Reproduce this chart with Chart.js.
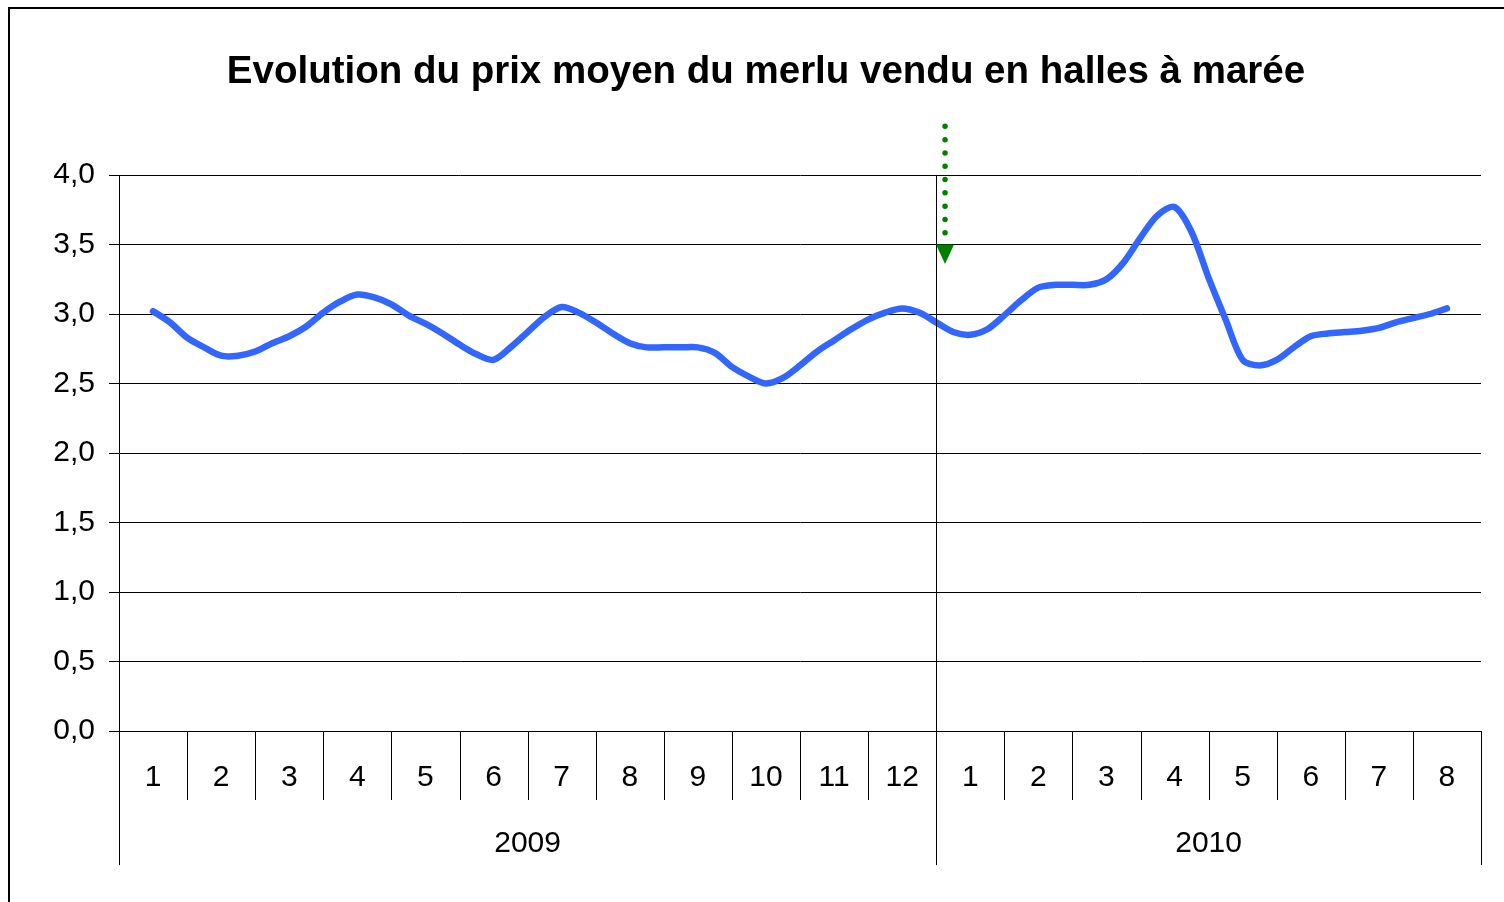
<!DOCTYPE html>
<html>
<head>
<meta charset="utf-8">
<script src="https://cdn.jsdelivr.net/npm/chart.js@4/dist/chart.umd.min.js"></script>
<style>
  html, body { margin: 0; padding: 0; background: #fff; }
  #wrap { width: 1504px; height: 902px; }
</style>
</head>
<body>
<div id="wrap"><canvas id="myChart"></canvas></div>
<script>
const title = 'Evolution du prix moyen du merlu vendu en halles à marée';
const months = ['1', '2', '3', '4', '5', '6', '7', '8', '9', '10', '11', '12', '1', '2', '3', '4', '5', '6', '7', '8'];
const years = ['2009', '2010'];
const yearSpans = [12, 8];
// prix moyen (euros/kg), 4 relevés par mois, du mois 1 2009 au mois 8 2010
const prices = [
    3.02, 2.94, 2.83, 2.76, 2.70, 2.70, 2.73, 2.79,
    2.84, 2.91, 3.01, 3.09, 3.14, 3.12, 3.07, 2.99,
    2.93, 2.86, 2.78, 2.71, 2.67, 2.76, 2.87, 2.98,
    3.05, 3.01, 2.94, 2.86, 2.79, 2.76, 2.76, 2.76,
    2.76, 2.72, 2.62, 2.55, 2.50, 2.54, 2.63, 2.73,
    2.81, 2.89, 2.96, 3.01, 3.04, 3.01, 2.94, 2.87,
    2.85, 2.89, 2.99, 3.10, 3.19, 3.21, 3.21, 3.21,
    3.25, 3.37, 3.55, 3.71, 3.77, 3.59, 3.26, 2.96,
    2.67, 2.63, 2.67, 2.76, 2.84, 2.86, 2.87, 2.88,
    2.90, 2.94, 2.97, 3.00, 3.04
];
const yTicks = [0, 0.5, 1, 1.5, 2, 2.5, 3, 3.5, 4];
// flèche verte : position en mois et valeurs
const arrowX = 12.63;
const arrowTop = 4.35;
const arrowHead = 3.5;
const arrowTip = 3.36;

const points = prices.map((v, i) => ({ x: 1 + i / 4, y: v }));
const font = "'Liberation Sans', Arial, sans-serif";

const decor = {
    id: 'decor',
    afterDraw(chart) {
        const c = chart.ctx;
        const xs = chart.scales.x;
        const ys = chart.scales.y;
        const top = chart.chartArea.top;
        const bottom = chart.chartArea.bottom;
        const lvl1 = bottom + 69;
        const lvl2 = bottom + 134;
        c.save();

        // cadre
        c.strokeStyle = '#000';
        c.lineWidth = 2;
        c.strokeRect(9, 8, 1600, 1000);

        // titre
        c.fillStyle = '#000';
        c.font = 'bold 38.5px ' + font;
        c.textAlign = 'center';
        c.textBaseline = 'middle';
        c.fillText(title, 766, 72);

        // axe des catégories
        c.lineWidth = 1;
        c.strokeStyle = '#000';
        c.beginPath();
        for (let i = 0; i <= months.length; i++) {
            const px = Math.round(xs.getPixelForValue(i + 0.5)) + 0.5;
            c.moveTo(px, bottom);
            c.lineTo(px, lvl1);
        }
        c.stroke();

        c.beginPath();
        let start = 0;
        [0].concat(yearSpans).forEach((n, j) => {
            start += n;
            const px = Math.round(xs.getPixelForValue(start + 0.5)) + 0.5;
            c.moveTo(px, (j > 0 && j < yearSpans.length) ? top : bottom);
            c.lineTo(px, lvl2);
        });
        c.stroke();

        c.font = '30px ' + font;
        months.forEach((m, i) => {
            c.fillText(m, xs.getPixelForValue(i + 1), bottom + 47);
        });
        start = 0;
        years.forEach((y, j) => {
            const mid = start + yearSpans[j] / 2 + 0.5;
            c.fillText(y, xs.getPixelForValue(mid), bottom + 113);
            start += yearSpans[j];
        });

        // flèche verte pointillée
        const ax = xs.getPixelForValue(arrowX);
        c.strokeStyle = '#008000';
        c.fillStyle = '#008000';
        c.lineWidth = 5.5;
        c.lineCap = 'round';
        c.setLineDash([0, 13.3]);
        c.beginPath();
        c.moveTo(ax, ys.getPixelForValue(arrowTop));
        c.lineTo(ax, ys.getPixelForValue(arrowHead) - 6);
        c.stroke();
        c.setLineDash([]);
        const hy = ys.getPixelForValue(arrowHead);
        c.beginPath();
        c.moveTo(ax - 9, hy);
        c.lineTo(ax + 9, hy);
        c.lineTo(ax, ys.getPixelForValue(arrowTip));
        c.closePath();
        c.fill();
        c.restore();
    }
};

const ctx = document.getElementById('myChart');

let newChart = new Chart(ctx, {
    type: 'line',
    data: {
        datasets: [{
            label: 'Prix moyen',
            data: points,
            borderColor: '#3366ff',
            borderWidth: 6.5,
            borderCapStyle: 'round',
            borderJoinStyle: 'round',
            pointRadius: 0,
            tension: 0.3,
            fill: false
        }]
    },
    options: {
        responsive: true,
        maintainAspectRatio: false,
        animation: false,
        layout: {
            padding: { top: 175, right: 23, left: 0, bottom: 0 }
        },
        plugins: {
            legend: { display: false },
            tooltip: { enabled: false }
        },
        scales: {
            x: {
                type: 'linear',
                min: 0.5,
                max: months.length + 0.5,
                grid: { display: false },
                border: { display: true, color: '#000', width: 1 },
                ticks: { display: false },
                afterFit(scale) { scale.height = 171; }
            },
            y: {
                min: 0,
                max: 4,
                afterBuildTicks(scale) { scale.ticks = yTicks.map(v => ({ value: v })); },
                grid: { color: '#000', lineWidth: 1, tickLength: 10 },
                border: { display: true, color: '#000', width: 1 },
                ticks: {
                    padding: 14,
                    color: '#000',
                    font: { family: font, size: 30 },
                    callback: v => v.toFixed(1).replace('.', ',')
                },
                afterFit(scale) { scale.width = 119; }
            }
        }
    },
    plugins: [decor]
});
</script>
</body>
</html>
